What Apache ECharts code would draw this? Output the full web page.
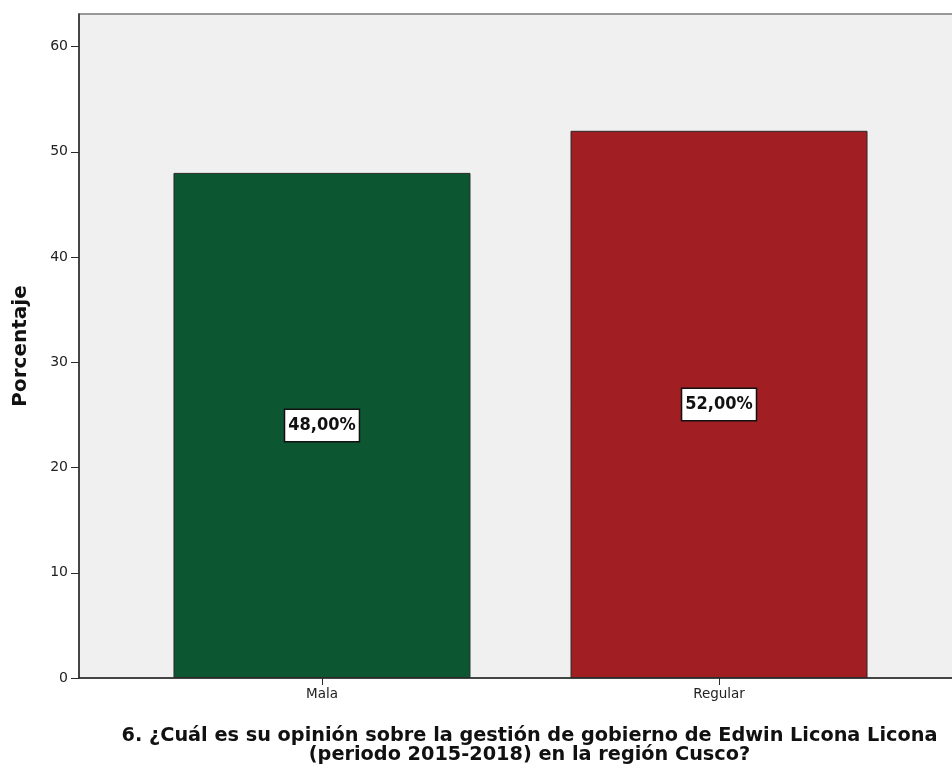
<!DOCTYPE html>
<html lang="es">
<head>
<meta charset="UTF-8">
<title>Gestión de gobierno - Cusco</title>
<script src="https://cdn.jsdelivr.net/npm/echarts@6/dist/echarts.min.js"></script>
<style>
    html, body { margin: 0; padding: 0; background: #fff; }
    #chart { width: 952px; height: 771px; }
</style>
</head>
<body>
<div id="chart"></div>
<script>
    // data
    const categories = ['Mala', 'Regular'];
    const percents = [48, 52];
    const barColors = ['#0c5631', '#a11e22'];
    const yTicks = [0, 10, 20, 30, 40, 50, 60];

    // bars sit at positions 1, 2 on a value axis so the side margins match the original
    const xPositions = categories.map((c, i) => i + 1);

    const chart = echarts.init(document.getElementById('chart'));
    const option = {
        animation: false,
        grid: {
            left: 79, top: 14, bottom: 93, width: 883,
            outerBoundsMode: 'none',
            show: true,
            backgroundColor: '#f0f0f0',
            borderColor: '#7a7a7a',
            borderWidth: 1.5
        },
        xAxis: {
            type: 'value',
            min: 0.388,
            max: 2.612,
            splitLine: { show: false },
            axisLine: { lineStyle: { color: '#2a2a2a', width: 1.5 } },
            axisTick: { customValues: xPositions, length: 7, lineStyle: { color: '#2a2a2a' } },
            axisLabel: {
                customValues: xPositions,
                formatter: v => categories[Math.round(v) - 1] || '',
                color: '#222',
                fontFamily: 'DejaVu Sans',
                fontSize: 13.5,
                margin: 9
            },
            name: '6. ¿Cuál es su opinión sobre la gestión de gobierno de Edwin Licona Licona\n(periodo 2015-2018) en la región Cusco?',
            nameLocation: 'middle',
            nameGap: 49,
            nameTextStyle: {
                color: '#111',
                fontFamily: 'DejaVu Sans',
                fontWeight: 'bold',
                fontSize: 19.3,
                lineHeight: 18.5,
                padding: [0, 0, 0, 18]
            }
        },
        yAxis: {
            type: 'value',
            min: 0,
            max: 63.1,
            splitLine: { show: false },
            axisLine: { show: true, lineStyle: { color: '#2a2a2a', width: 1.5 } },
            axisTick: { show: true, customValues: yTicks, length: 8, lineStyle: { color: '#2a2a2a' } },
            axisLabel: {
                customValues: yTicks,
                color: '#222',
                fontFamily: 'DejaVu Sans',
                fontSize: 14,
                margin: 11
            },
            name: 'Porcentaje',
            nameLocation: 'middle',
            nameGap: 48,
            nameTextStyle: {
                color: '#111',
                fontFamily: 'DejaVu Sans',
                fontWeight: 'bold',
                fontSize: 20
            }
        },
        series: [{
            type: 'bar',
            barWidth: 297,
            data: percents.map((v, i) => ({
                value: [xPositions[i], v],
                itemStyle: { color: barColors[i] }
            })),
            itemStyle: { borderColor: '#2a2a2a', borderWidth: 1 },
            label: {
                show: true,
                position: 'inside',
                formatter: p => p.value[1].toFixed(2).replace('.', ',') + '%',
                color: '#111',
                fontFamily: 'DejaVu Sans Condensed, Liberation Sans',
                fontWeight: 'bold',
                fontSize: 18,
                backgroundColor: '#fff',
                borderColor: '#111',
                borderWidth: 1.5,
                padding: [7, 3, 6, 3]
            }
        }]
    };
    chart.setOption(option);
</script>
</body>
</html>
